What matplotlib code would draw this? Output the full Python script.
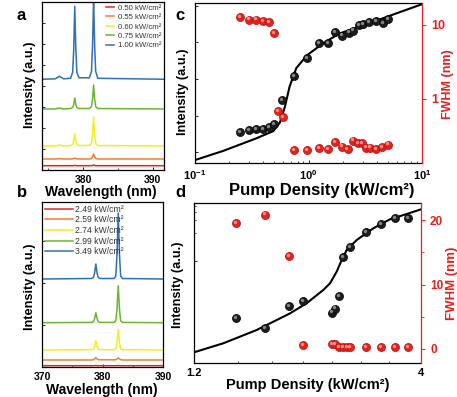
import matplotlib
matplotlib.use('Agg')
import matplotlib.pyplot as plt
from matplotlib.ticker import FixedLocator, NullLocator, NullFormatter, MultipleLocator, FixedFormatter
from matplotlib.transforms import offset_copy

# ---- panel a: spectra (0.50 - 1.00 kW/cm2) ----
wl_a = [374.0, 376.0, 376.6, 377.2, 378.2, 378.5, 378.65, 378.8, 378.95, 379.1, 379.4,
        380.9, 381.2, 381.35, 381.5, 381.65, 381.8, 382.1, 392.0]
spec_a = {
    '0.50 kW/cm²': [0, 0, 0, 0, 0, 0, 0.1, 0.3, 0.1, 0, 0, 0, 0, 0.3, 0.8, 0.3, 0, 0, 0],
    '0.55 kW/cm²': [0, 0, 0.3, 0, 0, 0.1, 0.4, 1, 0.4, 0.1, 0, 0, 0.5, 2, 5, 2, 0.5, 0, 0],
    '0.60 kW/cm²': [0, 0, 1, 0, 0.5, 1.5, 5, 12, 5, 1.5, 0.5, 0.5, 3, 12, 29, 12, 3, 0.5, 0],
    '0.75 kW/cm²': [0, 0, 1, 0, 0.5, 1.5, 4.5, 11, 4.5, 1.5, 0.5, 0.5, 2.5, 10, 24, 10, 2.5, 0.5, 0],
    '1.00 kW/cm²': [0, 0.5, 3, 0.5, 1, 7, 30, 73, 30, 7, 1.5, 1.5, 8, 34, 82, 34, 8, 1, 0],
}
offset_a = [4.3, 11, 24, 61, 90.7]

# ---- panel b: spectra (2.49 - 3.49 kW/cm2) ----
wl_b = [370.0, 378.2, 378.5, 378.7, 378.9, 379.1, 379.3, 379.6,
        381.9, 382.2, 382.4, 382.6, 382.8, 383.0, 383.3, 390.0]
spec_b = {
    '2.49 kW/cm²': [0, 0, 0, 0, 0.2, 0, 0, 0, 0, 0, 0, 0.2, 0, 0, 0, 0],
    '2.59 kW/cm²': [0, 0, 0.3, 1, 2.3, 1, 0.3, 0.2, 0.2, 0.3, 1, 2.3, 1, 0.3, 0, 0],
    '2.74 kW/cm²': [0, 0.3, 1, 3.5, 9.3, 3.5, 1, 0.3, 0.3, 1, 8, 20.7, 8, 1, 0.3, 0],
    '2.99 kW/cm²': [0, 0.3, 1, 4, 10, 4, 1, 0.3, 0.3, 2, 14, 37, 14, 2, 0.3, 0],
    '3.49 kW/cm²': [0, 0.5, 1.5, 6, 15, 6, 1.5, 0.5, 0.5, 3, 25, 66, 25, 3, 0.5, 0],
}
offset_b = [1.3, 7, 17, 44.3, 88]

spec_colors = ['#e52521', '#f07f2e', '#f4ee1c', '#6cb52f', '#2f70b6']

# ---- panel c: intensity / FWHM vs pump density ----
pump_c = [0.248, 0.30, 0.347, 0.40, 0.447, 0.497, 0.585, 0.74, 0.97, 1.24, 1.49, 1.72,
          1.99, 2.27, 2.47, 2.78, 3.02, 3.41, 3.96, 4.53, 5.0]
inten_c = [35.4, 39.3, 41.9, 41.9, 48.3, 57.1, 270, 1205, 3767, 9820, 9400, 18970,
           15450, 18620, 21100, 30650, 32000, 35370, 37670, 34040, 43650]
fit_x_c = [0.1, 0.177, 0.347, 0.49, 0.56, 0.62, 0.68, 0.78, 0.97, 1.34, 1.87, 2.63, 3.96, 5.9, 10]
fit_y_c = [6.08, 10.8, 23.9, 37.7, 64.7, 175, 608, 1982, 4454, 9400, 17500, 25400, 39350, 61940, 111200]
fwhm_x_c = [0.248, 0.30, 0.347, 0.40, 0.447, 0.497, 0.542, 0.596, 0.74, 0.97, 1.24, 1.49,
            1.72, 1.99, 2.21, 2.47, 2.73, 2.98, 3.24, 3.46, 3.96, 4.47, 5.0]
fwhm_c = [12.8, 11.7, 11.7, 11.3, 10.7, 7.7, 0.69, 0.57, 0.205, 0.203, 0.215, 0.209,
          0.262, 0.227, 0.209, 0.273, 0.251, 0.251, 0.22, 0.22, 0.211, 0.224, 0.241]

# ---- panel d: intensity / FWHM vs pump density ----
pump_d = [1.714, 2.072, 2.376, 2.548, 2.898, 2.943, 2.989, 3.034, 3.124, 3.322, 3.507, 3.679, 3.836]
inten_d = [10.5, 7.08, 16.7, 20.7, 12.9, 15.1, 25.2, 115.8, 174, 312, 440, 558, 558]
fit_x_d = [1.204, 1.562, 1.974, 2.385, 2.59, 2.795, 2.878, 2.96, 3.022, 3.084, 3.207, 3.412, 3.618, 3.824, 4.0]
fit_y_d = [2.67, 3.81, 6.46, 12.5, 18.7, 31.6, 41.3, 65.5, 104, 155, 230, 366, 524, 646, 778]
fwhm_x_d = [1.714, 2.072, 2.376, 2.548, 2.898, 2.943, 2.989, 3.034, 3.084, 3.124, 3.322, 3.507, 3.679, 3.836]
fwhm_d = [19.6, 20.9, 14.5, 0.62, 0.73, 0.73, 0.26, 0.26, 0.26, 0.26, 0.3, 0.3, 0.3, 0.3]

plt.rcParams['font.family'] = ['Liberation Sans', 'DejaVu Sans']
plt.rcParams['font.weight'] = 'bold'
plt.rcParams['mathtext.fontset'] = 'custom'
plt.rcParams['mathtext.rm'] = 'Liberation Sans:bold'
plt.rcParams['mathtext.it'] = 'Liberation Sans:bold'
plt.rcParams['mathtext.bf'] = 'Liberation Sans:bold'

W, H = 457, 397
fig = plt.figure(figsize=(W / 100, H / 100), dpi=100)


def box(l, t, r, b):
    return [l / W, 1 - b / H, (r - l) / W, (b - t) / H]


def ftext(x, y, s, **kw):
    return fig.text(x / W, 1 - y / H, s, ha='center', va='center', **kw)


def balls(ax, x, y, base, edge, light):
    ax.plot(x, y, 'o', ms=5.8, mfc=base, mec=edge, mew=0.5, zorder=4, clip_on=False)
    tr = offset_copy(ax.transData, fig=fig, x=-0.8, y=0.8, units='points')
    ax.plot(x, y, 'o', ms=2.4, mfc=light, mec='none', alpha=0.85, transform=tr, zorder=5,
            clip_on=False)


def spectra(ax, wl, spec, offsets, ylim):
    for (lab, vals), off, col in zip(spec.items(), offsets, spec_colors):
        ax.plot(wl, [v + off for v in vals], color=col, lw=1.1, label=lab)
    ax.set_ylim(*ylim)
    ax.yaxis.set_major_formatter(NullFormatter())
    ax.tick_params(direction='in', labelsize=7.5, length=2.5, width=0.6)
    ax.tick_params(which='minor', direction='in', length=1.5, width=0.5)
    for s in ax.spines.values():
        s.set_linewidth(0.9)


# panel a
ax_a = fig.add_axes(box(42, 2, 164, 170))
spectra(ax_a, wl_a, spec_a, offset_a, (0, 168))
ax_a.set_xlim(374.1, 391.6)
ax_a.xaxis.set_major_locator(FixedLocator([380, 390]))
ax_a.xaxis.set_minor_locator(MultipleLocator(5))
ax_a.yaxis.set_major_locator(MultipleLocator(21))
ax_a.legend(loc='upper right', frameon=False, handlelength=1.1,
            handletextpad=0.5, labelspacing=0.25, borderaxespad=0.1, borderpad=0.2,
            prop={'size': 5.6, 'weight': 'normal'}, labelcolor='#333333')

# panel b
ax_b = fig.add_axes(box(42, 202, 163, 367))
spectra(ax_b, wl_b, spec_b, offset_b, (0, 165))
ax_b.set_xlim(370, 390)
ax_b.xaxis.set_major_locator(FixedLocator([370, 380, 390]))
ax_b.xaxis.set_minor_locator(MultipleLocator(5))
ax_b.yaxis.set_major_locator(MultipleLocator(42))
ax_b.legend(loc='upper left', frameon=False, handlelength=3.3,
            handletextpad=0.2, labelspacing=0.2, borderaxespad=0.1, borderpad=0.2,
            prop={'size': 6.2, 'weight': 'normal'}, labelcolor='#333333')

# panel c
ax_c = fig.add_axes(box(195, 3, 422, 163))
ax_c.set_xscale('log')
ax_c.set_yscale('log')
ax_c.set_xlim(0.1, 10)
ax_c.set_ylim(5.05, 1.2e5)
ax_c.plot(fit_x_c, fit_y_c, color='black', lw=1.5, zorder=3)
balls(ax_c, pump_c, inten_c, '#1c1c1c', '#000000', '#9a9a9a')
ax_c.xaxis.set_major_locator(FixedLocator([0.1, 1, 10]))
ax_c.xaxis.set_major_formatter(FixedFormatter([r'$10^{-1}$', r'$10^{0}$', r'$10^{1}$']))
ax_c.yaxis.set_major_locator(FixedLocator([10, 100, 1e3, 1e4, 1e5]))
ax_c.yaxis.set_minor_locator(NullLocator())
ax_c.yaxis.set_major_formatter(NullFormatter())
ax_c.tick_params(direction='in', labelsize=8, length=2.5, width=0.6)
ax_c.tick_params(which='minor', direction='in', length=1.5, width=0.5)
ax_c.spines['right'].set_visible(False)

ax_c2 = ax_c.twinx()
ax_c2.set_yscale('log')
ax_c2.set_ylim(0.136, 19.6)
balls(ax_c2, fwhm_x_c, fwhm_c, '#e2231d', '#b01010', '#ff9f96')
ax_c2.yaxis.set_major_locator(FixedLocator([1, 10]))
ax_c2.yaxis.set_major_formatter(FixedFormatter(['1', '10']))
ax_c2.yaxis.set_minor_locator(NullLocator())
ax_c2.tick_params(axis='y', colors='#e2231d', labelsize=9, length=3, width=0.7, direction='out')
for side in ['left', 'top', 'bottom']:
    ax_c2.spines[side].set_visible(False)
ax_c2.spines['right'].set_color('#e2231d')
for s in ax_c.spines.values():
    s.set_linewidth(0.9)
ax_c2.spines['right'].set_linewidth(0.9)

# panel d
ax_d = fig.add_axes(box(194, 203, 421, 363))
ax_d.set_yscale('log')
ax_d.set_xlim(1.2, 4.0)
ax_d.set_ylim(1.74, 1000)
ax_d.plot(fit_x_d, fit_y_d, color='black', lw=1.5, zorder=3)
balls(ax_d, pump_d, inten_d, '#1c1c1c', '#000000', '#9a9a9a')
ax_d.xaxis.set_major_locator(FixedLocator([1.2, 4.0]))
ax_d.xaxis.set_major_formatter(FixedFormatter(['1.2', '4']))
ax_d.xaxis.set_minor_locator(FixedLocator([1.74, 2.16, 2.54, 2.9, 3.26, 3.6]))
ax_d.yaxis.set_major_locator(FixedLocator([100, 1000]))
ax_d.yaxis.set_minor_locator(FixedLocator([300, 500, 700, 900]))
ax_d.yaxis.set_major_formatter(NullFormatter())
ax_d.yaxis.set_minor_formatter(NullFormatter())
ax_d.tick_params(direction='in', labelsize=8, length=2.5, width=0.6)
ax_d.tick_params(which='minor', direction='in', length=1.5, width=0.5)
ax_d.spines['right'].set_visible(False)

ax_d2 = ax_d.twinx()
ax_d2.set_ylim(-2.2, 22.7)
balls(ax_d2, fwhm_x_d, fwhm_d, '#e2231d', '#b01010', '#ff9f96')
ax_d2.yaxis.set_major_locator(FixedLocator([0, 10, 20]))
ax_d2.yaxis.set_minor_locator(FixedLocator([5, 15]))
ax_d2.tick_params(axis='y', colors='#e2231d', labelsize=8.5, length=3, width=0.7, direction='out')
ax_d2.tick_params(axis='y', which='minor', colors='#e2231d', length=1.8, width=0.6)
for side in ['left', 'top', 'bottom']:
    ax_d2.spines[side].set_visible(False)
ax_d2.spines['right'].set_color('#e2231d')
for s in ax_d.spines.values():
    s.set_linewidth(0.9)
ax_d2.spines['right'].set_linewidth(0.9)

# axis labels
ftext(30, 85, 'Intensity (a.u.)', rotation=90, fontsize=9.2)
ftext(30, 287, 'Intensity (a.u.)', rotation=90, fontsize=9.2)
ftext(101, 192, 'Wavelength (nm)', fontsize=10)
ftext(102, 390, 'Wavelength (nm)', fontsize=10)
ftext(183, 92, 'Intensity (a.u.)', rotation=90, fontsize=9.2)
ftext(178, 285, 'Intensity (a.u.)', rotation=90, fontsize=9.2)
ftext(322, 190, 'Pump Density (kW/cm²)', fontsize=12)
ftext(308, 385, 'Pump Density (kW/cm²)', fontsize=10.5)
ftext(448, 84, 'FWHM (nm)', rotation=90, fontsize=9, color='#e2231d')
ftext(452, 283, 'FWHM (nm)', rotation=90, fontsize=9.5, color='#e2231d')

# panel letters
ftext(21, 15, 'a', fontsize=12)
ftext(22, 192, 'b', fontsize=12)
ftext(180, 16, 'c', fontsize=12)
ftext(180, 192, 'd', fontsize=12)

fig.savefig('out.png', dpi=100)
